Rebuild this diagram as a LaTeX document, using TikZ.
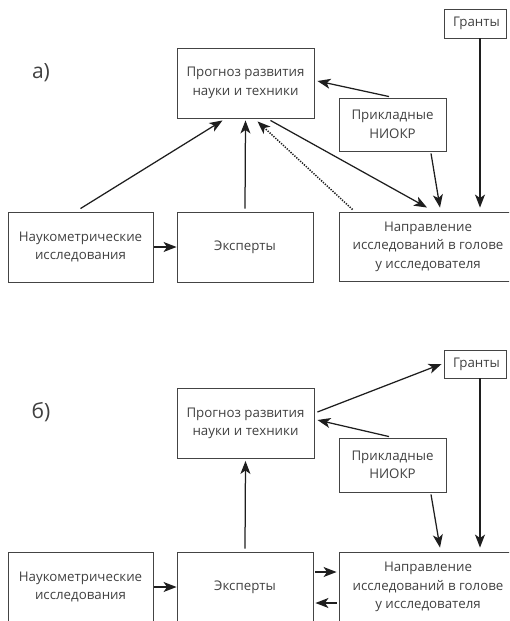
\documentclass[tikz,border=0pt]{standalone}
\usepackage{fontspec}
\setmainfont{Open Sans}
\usetikzlibrary{arrows.meta}
\definecolor{txt}{HTML}{404040}
\definecolor{frame}{HTML}{444444}
\definecolor{ln}{HTML}{1E1E1E}
\tikzset{
  box/.style={draw=frame, line width=0.9pt, text=txt, align=center, font=\fontsize{13.3}{18.5}\selectfont, inner sep=0pt},
  arr/.style={draw=ln, line width=1.25pt, -{Stealth[length=13pt,width=10pt,inset=3.5pt]}},
  dotline/.style={dash pattern=on 1.3pt off 1.3pt, line width=1.5pt},
  lbl/.style={text=txt, font=\fontsize{21}{24}\selectfont}
}
\begin{document}
\begin{tikzpicture}[x=1pt,y=-1pt]
\useasboundingbox (0,0) rectangle (509,621);
\clip (0,0) rectangle (509,621);
% ---------- a ----------
\node[lbl] (la) at (41,73) {а)};
\node[box, minimum width=137pt, minimum height=70pt] (prA) at (245.5,83) {Прогноз развития\\науки и техники};
\node[box, minimum width=107pt, minimum height=53pt] (niA) at (392.5,124.5) {Прикладные\\НИОКР};
\node[box, minimum width=62pt, minimum height=29pt] (grA) at (475,23.5) {\hspace*{3pt}Гранты};
\node[box, minimum width=145pt, minimum height=70pt] (nkA) at (80.5,247) {Наукометрические\\исследования};
\node[box, minimum width=136pt, minimum height=70pt] (exA) at (245,247) {Эксперты};
\node[box, minimum width=178pt, minimum height=69pt] (naA) at (428,246.5) {Направление\\исследований в голове\\у исследователя};

\draw[arr] ([xshift=1pt]nkA.east) -- (exA.west);
\draw[arr] ([yshift=3pt]nkA.north) -- ([xshift=-23pt,yshift=-2pt]prA.south);
\draw[arr] ([yshift=3pt]exA.north) -- ([yshift=-2pt]prA.south);
\draw[arr, dotline] ([xshift=14pt,yshift=2pt]naA.north west) -- ([xshift=12pt,yshift=-3pt]prA.south);
\draw[arr] ([xshift=25pt,yshift=-2pt]prA.south) -- ([xshift=-1pt,yshift=4pt]naA.north);
\draw[arr] ([xshift=-3.5pt,yshift=1pt]niA.north) -- ([xshift=3pt,yshift=2pt]prA.east);
\draw[arr] ([xshift=38.5pt,yshift=-2pt]niA.south) -- ([xshift=12pt,yshift=4pt]naA.north);
\draw[arr] ([xshift=5pt]grA.south) -- ([xshift=5pt,yshift=4pt]grA.south |- naA.north);

% ---------- b ----------
\node[lbl] (lb) at (41,412) {б)};
\node[box, minimum width=137pt, minimum height=70pt] (prB) at (245.5,423.5) {Прогноз развития\\науки и техники};
\node[box, minimum width=107pt, minimum height=54pt] (niB) at (392.5,465) {Прикладные\\НИОКР};
\node[box, minimum width=62pt, minimum height=28pt] (grB) at (475,364) {\hspace*{3pt}Гранты};
\node[box, minimum width=145pt, minimum height=70pt] (nkB) at (80.5,587) {Наукометрические\\исследования};
\node[box, minimum width=136pt, minimum height=70pt] (exB) at (245,587) {Эксперты};
\node[box, minimum width=178pt, minimum height=70pt] (naB) at (428,587) {Направление\\исследований в голове\\у исследователя};

\draw[arr] ([xshift=1pt]nkB.east) -- (exB.west);
\draw[arr] ([yshift=3pt]exB.north) -- ([yshift=-2pt]prB.south);
\draw[arr] ([xshift=3pt,yshift=11.5pt]prB.east) -- ([xshift=-2pt]grB.west);
\draw[arr] ([xshift=-3.5pt,yshift=1pt]niB.north) -- ([xshift=3pt,yshift=3.5pt]prB.east);
\draw[arr] ([xshift=38.5pt,yshift=-2pt]niB.south) -- ([xshift=12pt,yshift=4pt]naB.north);
\draw[arr] ([xshift=5pt]grB.south) -- ([xshift=5pt,yshift=4pt]grB.south |- naB.north);
\draw[arr] ([xshift=2pt,yshift=15pt]exB.east) -- ([xshift=-2pt,yshift=15pt]exB.east -| naB.west);
\draw[arr] ([xshift=-2pt,yshift=-16pt]naB.west) -- ([xshift=2pt,yshift=-16pt]naB.west -| exB.east);
\end{tikzpicture}
\end{document}
